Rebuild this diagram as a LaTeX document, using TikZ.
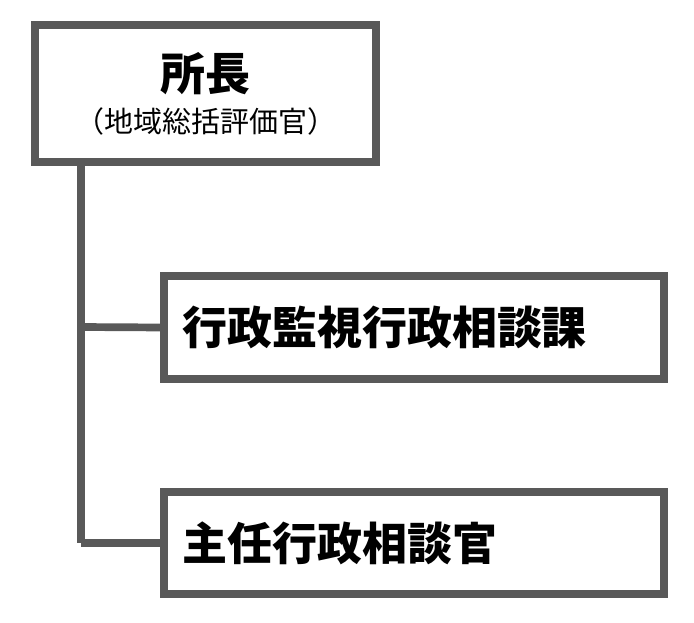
\documentclass[tikz,border=0pt]{standalone}
\usepackage{fontspec}
\newfontfamily\cjk{Noto Sans CJK JP}
\definecolor{boxgray}{HTML}{595959}
\tikzset{
  orgbox/.style={draw=boxgray, line width=7.7pt, fill=white, inner sep=0pt, outer sep=0pt},
  unitbox/.style={orgbox, text width=464pt, inner xsep=18pt, inner ysep=0pt, align=left, font=\cjk\bfseries\fontsize{45}{54}\selectfont},
  conn/.style={draw=boxgray, line width=7.7pt, line cap=butt},
  titletext/.style={inner sep=0pt, font=\cjk\bfseries\fontsize{45}{54}\selectfont},
  subtext/.style={inner sep=0pt, font=\cjk\fontsize{29}{34}\selectfont}
}
\begin{document}
\begin{tikzpicture}[x=1pt,y=-1pt]
\useasboundingbox (0,0) rectangle (694,622);
\node[orgbox, minimum width=341pt, minimum height=137pt] (box1) at (205.5,93.5) {};
\node[titletext] (title) at (205.5,74) {所長};
\node[subtext] (sub) at (205.5,121) {（地域総括評価官）};
\node[unitbox, minimum height=103pt] (box2) at (414,327.5) {行政監視行政相談課};
\node[unitbox, minimum height=102pt] (box3) at (414,543) {主任行政相談官};
\coordinate (j1) at (81,327);
\coordinate (j2) at (81,543);
\draw[conn] (box1.south -| j1) -- (j2);
\draw[conn] (j1) -- (box2.west);
\draw[conn] (j2) -- (box3.west);
\end{tikzpicture}
\end{document}
